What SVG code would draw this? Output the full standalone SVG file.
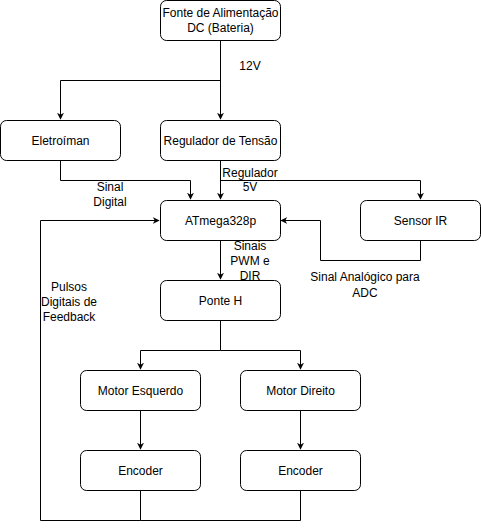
<svg xmlns="http://www.w3.org/2000/svg" width="481" height="529" viewBox="0 0 481 529">
<defs>
<marker id="arr" viewBox="0 0 10 10" refX="9" refY="5" markerWidth="7" markerHeight="7" markerUnits="userSpaceOnUse" orient="auto">
<path d="M0,0 L10,5 L0,10 L3,5 Z" fill="#000"/>
</marker>
</defs>
<style>
.box{fill:#fff;stroke:#000;stroke-width:1}
.t{font-family:"Liberation Sans",Arial,sans-serif;font-size:12px;fill:#000;text-anchor:middle}
.c{fill:none;stroke:#000;stroke-width:1;marker-end:url(#arr)}
.cn{fill:none;stroke:#000;stroke-width:1}
</style>
<rect width="481" height="529" fill="#fff"/>
<g id="connectors">
<path class="c" d="M220.5,40 V119"/>
<path class="c" d="M220.5,80.5 H60.5 V119"/>
<path class="c" d="M60.5,160 V180.5 H190.5 V199"/>
<path class="c" d="M220.5,160 V199"/>
<path class="c" d="M220.5,180.5 H420.5 V199"/>
<path class="c" d="M420.5,240 V260.5 H320.5 V220.5 H281"/>
<path class="c" d="M220.5,240 V279"/>
<path class="c" d="M220.5,320 V350.5 H140.5 V369"/>
<path class="c" d="M220.5,350.5 H300.5 V369"/>
<path class="c" d="M140.5,410 V449"/>
<path class="c" d="M300.5,410 V449"/>
<path class="c" d="M140.5,490 V520.5 H40.5 V220.5 H159"/>
<path class="cn" d="M300.5,490 V520.5 H140.5"/>
<g class="t">
<rect x="236" y="57" width="28" height="16" fill="#fff"/>
<text x="250" y="70">12V</text>
<text x="110" y="191">Sinal</text>
<text x="110" y="206">Digital</text>
<text x="250" y="177">Regulador</text>
<text x="250" y="191">5V</text>
<text x="250" y="250">Sinais</text>
<text x="250" y="265">PWM e</text>
<text x="250" y="280">DIR</text>
<text x="365" y="281">Sinal Analógico para</text>
<text x="365" y="297">ADC</text>
<text x="69" y="291">Pulsos</text>
<text x="69" y="306">Digitais de</text>
<text x="69" y="321">Feedback</text>
</g>
</g>
<g id="fonte"><rect class="box" x="160.5" y="0.5" width="120" height="40" rx="6"/><text class="t" x="220.5" y="17">Fonte de Alimentação</text><text class="t" x="220.5" y="32">DC (Bateria)</text></g>
<g id="eletroiman"><rect class="box" x="0.5" y="120.5" width="120" height="40" rx="6"/><text class="t" x="60.5" y="145">Eletroíman</text></g>
<g id="regulador"><rect class="box" x="160.5" y="120.5" width="120" height="40" rx="6"/><text class="t" x="220.5" y="145">Regulador de Tensão</text></g>
<g id="atmega"><rect class="box" x="160.5" y="200.5" width="120" height="40" rx="6"/><text class="t" x="220.5" y="225">ATmega328p</text></g>
<g id="sensor"><rect class="box" x="360.5" y="200.5" width="120" height="40" rx="6"/><text class="t" x="420.5" y="225">Sensor IR</text></g>
<g id="ponte"><rect class="box" x="160.5" y="280.5" width="120" height="40" rx="6"/><text class="t" x="220.5" y="305">Ponte H</text></g>
<g id="motorE"><rect class="box" x="80.5" y="370.5" width="120" height="40" rx="6"/><text class="t" x="140.5" y="395">Motor Esquerdo</text></g>
<g id="motorD"><rect class="box" x="240.5" y="370.5" width="120" height="40" rx="6"/><text class="t" x="300.5" y="395">Motor Direito</text></g>
<g id="encoderE"><rect class="box" x="80.5" y="450.5" width="120" height="40" rx="6"/><text class="t" x="140.5" y="475">Encoder</text></g>
<g id="encoderD"><rect class="box" x="240.5" y="450.5" width="120" height="40" rx="6"/><text class="t" x="300.5" y="475">Encoder</text></g>
</svg>
